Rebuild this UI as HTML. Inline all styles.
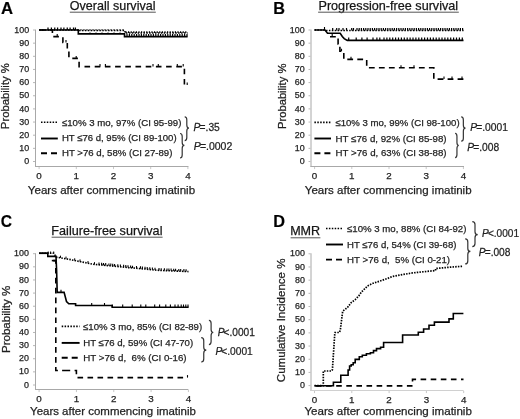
<!DOCTYPE html>
<html><head><meta charset="utf-8"><style>
html,body{margin:0;padding:0;background:#fff;}
svg{display:block;filter:grayscale(100%);}
text{stroke:#222;stroke-width:0.25px;white-space:pre;}
</style></head><body>
<svg width="520" height="419" viewBox="0 0 520 419">
<rect width="520" height="419" fill="#fff"/>
<text x="0.98" y="13.60" font-size="16.8" style="font-family:&quot;Liberation Sans&quot;,sans-serif;font-weight:bold;stroke-width:0.2px;" fill="#000" textLength="12.06" lengthAdjust="spacingAndGlyphs" >A</text>
<text x="69.81" y="10.00" font-size="12.6" style="font-family:&quot;Liberation Sans&quot;,sans-serif;" fill="#111" textLength="85.63" lengthAdjust="spacingAndGlyphs" >Overall survival</text>
<line x1="69.80" y1="12.20" x2="155.80" y2="12.20" stroke="#555" stroke-width="1" />
<line x1="35.50" y1="29.50" x2="35.50" y2="167.00" stroke="#a8a8a8" stroke-width="1" />
<line x1="35.00" y1="166.50" x2="188.50" y2="166.50" stroke="#a8a8a8" stroke-width="1" />
<line x1="33.00" y1="161.50" x2="35.00" y2="161.50" stroke="#b8b8b8" stroke-width="1" />
<text x="24.20" y="164.10" font-size="8.9" style="font-family:&quot;Liberation Sans&quot;,sans-serif" fill="#1e1e1e">0</text>
<line x1="33.00" y1="148.35" x2="35.00" y2="148.35" stroke="#b8b8b8" stroke-width="1" />
<text x="19.25" y="150.95" font-size="8.9" style="font-family:&quot;Liberation Sans&quot;,sans-serif" fill="#1e1e1e">10</text>
<line x1="33.00" y1="135.20" x2="35.00" y2="135.20" stroke="#b8b8b8" stroke-width="1" />
<text x="19.25" y="137.80" font-size="8.9" style="font-family:&quot;Liberation Sans&quot;,sans-serif" fill="#1e1e1e">20</text>
<line x1="33.00" y1="122.05" x2="35.00" y2="122.05" stroke="#b8b8b8" stroke-width="1" />
<text x="19.25" y="124.65" font-size="8.9" style="font-family:&quot;Liberation Sans&quot;,sans-serif" fill="#1e1e1e">30</text>
<line x1="33.00" y1="108.90" x2="35.00" y2="108.90" stroke="#b8b8b8" stroke-width="1" />
<text x="19.25" y="111.50" font-size="8.9" style="font-family:&quot;Liberation Sans&quot;,sans-serif" fill="#1e1e1e">40</text>
<line x1="33.00" y1="95.75" x2="35.00" y2="95.75" stroke="#b8b8b8" stroke-width="1" />
<text x="19.25" y="98.35" font-size="8.9" style="font-family:&quot;Liberation Sans&quot;,sans-serif" fill="#1e1e1e">50</text>
<line x1="33.00" y1="82.60" x2="35.00" y2="82.60" stroke="#b8b8b8" stroke-width="1" />
<text x="19.25" y="85.20" font-size="8.9" style="font-family:&quot;Liberation Sans&quot;,sans-serif" fill="#1e1e1e">60</text>
<line x1="33.00" y1="69.45" x2="35.00" y2="69.45" stroke="#b8b8b8" stroke-width="1" />
<text x="19.25" y="72.05" font-size="8.9" style="font-family:&quot;Liberation Sans&quot;,sans-serif" fill="#1e1e1e">70</text>
<line x1="33.00" y1="56.30" x2="35.00" y2="56.30" stroke="#b8b8b8" stroke-width="1" />
<text x="19.25" y="58.90" font-size="8.9" style="font-family:&quot;Liberation Sans&quot;,sans-serif" fill="#1e1e1e">80</text>
<line x1="33.00" y1="43.15" x2="35.00" y2="43.15" stroke="#b8b8b8" stroke-width="1" />
<text x="19.25" y="45.75" font-size="8.9" style="font-family:&quot;Liberation Sans&quot;,sans-serif" fill="#1e1e1e">90</text>
<line x1="33.00" y1="30.00" x2="35.00" y2="30.00" stroke="#b8b8b8" stroke-width="1" />
<text x="14.30" y="32.60" font-size="8.9" style="font-family:&quot;Liberation Sans&quot;,sans-serif" fill="#1e1e1e">100</text>
<line x1="39.10" y1="167.00" x2="39.10" y2="169.10" stroke="#c8c8c8" stroke-width="1" />
<text x="39.10" y="179.10" font-size="9.8" text-anchor="middle" style="font-family:&quot;Liberation Sans&quot;,sans-serif" fill="#1e1e1e">0</text>
<line x1="76.30" y1="167.00" x2="76.30" y2="169.10" stroke="#c8c8c8" stroke-width="1" />
<text x="76.30" y="179.10" font-size="9.8" text-anchor="middle" style="font-family:&quot;Liberation Sans&quot;,sans-serif" fill="#1e1e1e">1</text>
<line x1="113.50" y1="167.00" x2="113.50" y2="169.10" stroke="#c8c8c8" stroke-width="1" />
<text x="113.50" y="179.10" font-size="9.8" text-anchor="middle" style="font-family:&quot;Liberation Sans&quot;,sans-serif" fill="#1e1e1e">2</text>
<line x1="150.70" y1="167.00" x2="150.70" y2="169.10" stroke="#c8c8c8" stroke-width="1" />
<text x="150.70" y="179.10" font-size="9.8" text-anchor="middle" style="font-family:&quot;Liberation Sans&quot;,sans-serif" fill="#1e1e1e">3</text>
<line x1="187.90" y1="167.00" x2="187.90" y2="169.10" stroke="#c8c8c8" stroke-width="1" />
<text x="187.90" y="179.10" font-size="9.8" text-anchor="middle" style="font-family:&quot;Liberation Sans&quot;,sans-serif" fill="#1e1e1e">4</text>
<text x="27.85" y="193.80" font-size="11.5" style="font-family:&quot;Liberation Sans&quot;,sans-serif;" fill="#1e1e1e" textLength="167.23" lengthAdjust="spacingAndGlyphs" >Years after commencing imatinib</text>
<text transform="translate(9.40,129.13) rotate(-90)" x="0" y="0" font-size="11.5" style="font-family:&quot;Liberation Sans&quot;,sans-serif;" fill="#1e1e1e" textLength="66.03" lengthAdjust="spacingAndGlyphs">Probability %</text>
<line x1="41.00" y1="122.30" x2="57.80" y2="122.30" stroke="#000" stroke-width="1.6" stroke-dasharray="1.5 1.4" />
<line x1="41.00" y1="138.50" x2="57.80" y2="138.50" stroke="#000" stroke-width="1.9" />
<line x1="41.00" y1="153.30" x2="57.80" y2="153.30" stroke="#000" stroke-width="1.9" stroke-dasharray="6 4" />
<text x="61.90" y="125.60" font-size="9.6" style="font-family:&quot;Liberation Sans&quot;,sans-serif;" fill="#1e1e1e" textLength="119.49" lengthAdjust="spacingAndGlyphs" >≤10% 3 mo, 97% (CI 95-99)</text>
<text x="61.92" y="141.40" font-size="9.6" style="font-family:&quot;Liberation Sans&quot;,sans-serif;" fill="#1e1e1e" textLength="114.68" lengthAdjust="spacingAndGlyphs" >HT ≤76 d, 95% (CI 89-100)</text>
<text x="62.01" y="156.40" font-size="9.6" style="font-family:&quot;Liberation Sans&quot;,sans-serif;" fill="#1e1e1e" textLength="110.39" lengthAdjust="spacingAndGlyphs" >HT &gt;76 d, 58% (CI 27-89)</text>
<path d="M184.70,116.80 Q186.80,116.80 186.80,119.80 L186.80,125.10 Q186.80,128.10 188.90,128.10 Q186.80,128.10 186.80,131.10 L186.80,137.60 Q186.80,140.60 184.70,140.60" fill="none" stroke="#333" stroke-width="1.2"/>
<path d="M180.00,133.50 Q182.20,133.50 182.20,136.50 L182.20,142.40 Q182.20,145.40 184.40,145.40 Q182.20,145.40 182.20,148.40 L182.20,155.00 Q182.20,158.00 180.00,158.00" fill="none" stroke="#333" stroke-width="1.2"/>
<g transform="translate(193.90,131.10) scale(0.9501,1)"><text x="-0.33" y="0" font-size="10.8" style="font-family:&quot;Liberation Sans&quot;,sans-serif;font-style:italic" fill="#1e1e1e">P</text><text x="5.97" y="0" font-size="10.8" style="font-family:&quot;Liberation Sans&quot;,sans-serif;" fill="#1e1e1e">=.35</text></g>
<g transform="translate(194.10,149.70) scale(0.9726,1)"><text x="-0.33" y="0" font-size="10.8" style="font-family:&quot;Liberation Sans&quot;,sans-serif;font-style:italic" fill="#1e1e1e">P</text><text x="5.97" y="0" font-size="10.8" style="font-family:&quot;Liberation Sans&quot;,sans-serif;" fill="#1e1e1e">=.0002</text></g>
<path d="M39.10,30.00 L78.00,30.00 L78.00,30.60 L125.00,30.60 L125.00,33.00 L187.60,33.00" fill="none" stroke="#000" stroke-width="1.5" stroke-dasharray="1.5 1.4" stroke-dashoffset="0" stroke-linejoin="miter"/>
<path d="M39.10,30.00 L78.30,30.00 L78.30,33.90 L124.50,33.90 L124.50,36.60 L187.60,36.60" fill="none" stroke="#000" stroke-width="1.6" stroke-linejoin="miter"/>
<path d="M39.10,30.00 L52.40,30.00 L52.40,36.60 L62.90,36.60 L62.90,42.50 L67.30,42.50 L67.30,49.50 L68.90,49.50 L68.90,58.40 L79.10,58.40 L79.10,66.60 L184.40,66.60 L184.40,85.00 L187.60,85.00" fill="none" stroke="#000" stroke-width="1.6" stroke-dasharray="5.6 4.6" stroke-dashoffset="9.80" stroke-linejoin="miter"/>
<path d="M48.00,30.00 v-2.5 M51.40,30.00 v-2.5 M54.75,30.00 v-2.5 M57.60,30.00 v-2.5 M61.00,30.00 v-2.5 M63.90,30.00 v-2.5 M67.25,30.00 v-2.5 M70.10,30.00 v-2.5 M73.50,30.00 v-2.5 M75.40,30.00 v-2.5" stroke="#000" stroke-width="1.25" fill="none"/>
<path d="M81.00,30.60 v-1.4 M84.00,30.60 v-1.4 M87.00,30.60 v-1.4 M90.00,30.60 v-1.4 M93.00,30.60 v-1.4 M96.00,30.60 v-1.4 M99.00,30.60 v-1.4 M102.00,30.60 v-1.4 M105.00,30.60 v-1.4 M108.00,30.60 v-1.4 M111.00,30.60 v-1.4 M114.00,30.60 v-1.4 M117.00,30.60 v-1.4 M120.00,30.60 v-1.4 M123.00,30.60 v-1.4" stroke="#000" stroke-width="1.2" fill="none"/>
<path d="M126.00,33.00 v-1.8 M128.60,33.00 v-1.8 M131.20,33.00 v-1.8 M133.80,33.00 v-1.8 M136.40,33.00 v-1.8 M139.00,33.00 v-1.8 M141.60,33.00 v-1.8 M144.20,33.00 v-1.8 M146.80,33.00 v-1.8 M149.40,33.00 v-1.8 M152.00,33.00 v-1.8 M154.60,33.00 v-1.8 M157.20,33.00 v-1.8 M159.80,33.00 v-1.8 M162.40,33.00 v-1.8 M165.00,33.00 v-1.8 M167.60,33.00 v-1.8 M170.20,33.00 v-1.8 M172.80,33.00 v-1.8 M175.40,33.00 v-1.8 M178.00,33.00 v-1.8 M180.60,33.00 v-1.8 M183.20,33.00 v-1.8 M185.80,33.00 v-1.8" stroke="#000" stroke-width="1.2" fill="none"/>
<path d="M90.00,33.90 v-1.5 M96.00,33.90 v-1.5 M102.00,33.90 v-1.5 M108.00,33.90 v-1.5 M114.00,33.90 v-1.5 M120.00,33.90 v-1.5" stroke="#000" stroke-width="1.1" fill="none"/>
<path d="M127.00,36.60 v-2.6 M129.40,36.60 v-2.6 M131.80,36.60 v-2.6 M134.20,36.60 v-2.6 M136.60,36.60 v-2.6 M139.00,36.60 v-2.6 M141.40,36.60 v-2.6 M143.80,36.60 v-2.6 M146.20,36.60 v-2.6 M148.60,36.60 v-2.6 M151.00,36.60 v-2.6 M153.40,36.60 v-2.6 M155.80,36.60 v-2.6 M158.20,36.60 v-2.6 M160.60,36.60 v-2.6 M163.00,36.60 v-2.6 M165.40,36.60 v-2.6 M167.80,36.60 v-2.6 M170.20,36.60 v-2.6 M172.60,36.60 v-2.6 M175.00,36.60 v-2.6 M177.40,36.60 v-2.6 M179.80,36.60 v-2.6 M182.20,36.60 v-2.6 M184.60,36.60 v-2.6 M187.00,36.60 v-2.6" stroke="#000" stroke-width="1.2" fill="none"/>
<path d="M57.20,36.60 v-2.5 M66.00,42.50 v-2.5 M76.20,58.40 v-2.5 M100.00,66.60 v-2.5 M105.40,66.60 v-2.5 M153.00,66.60 v-2.5 M158.30,66.60 v-2.5 M177.30,66.60 v-2.5 M183.20,66.60 v-2.5 M187.20,85.00 v-2.5" stroke="#000" stroke-width="1.1" fill="none"/>
<text x="273.31" y="13.60" font-size="16.8" style="font-family:&quot;Liberation Sans&quot;,sans-serif;font-weight:bold;stroke-width:0.2px;" fill="#000" textLength="11.72" lengthAdjust="spacingAndGlyphs" >B</text>
<text x="318.46" y="9.80" font-size="12.6" style="font-family:&quot;Liberation Sans&quot;,sans-serif;" fill="#111" textLength="139.68" lengthAdjust="spacingAndGlyphs" >Progression-free survival</text>
<line x1="318.10" y1="12.20" x2="458.80" y2="12.20" stroke="#555" stroke-width="1" />
<line x1="311.00" y1="29.50" x2="311.00" y2="167.00" stroke="#a8a8a8" stroke-width="1" />
<line x1="310.50" y1="166.50" x2="464.00" y2="166.50" stroke="#a8a8a8" stroke-width="1" />
<line x1="308.50" y1="161.50" x2="310.50" y2="161.50" stroke="#b8b8b8" stroke-width="1" />
<text x="299.70" y="164.10" font-size="8.9" style="font-family:&quot;Liberation Sans&quot;,sans-serif" fill="#1e1e1e">0</text>
<line x1="308.50" y1="148.35" x2="310.50" y2="148.35" stroke="#b8b8b8" stroke-width="1" />
<text x="294.75" y="150.95" font-size="8.9" style="font-family:&quot;Liberation Sans&quot;,sans-serif" fill="#1e1e1e">10</text>
<line x1="308.50" y1="135.20" x2="310.50" y2="135.20" stroke="#b8b8b8" stroke-width="1" />
<text x="294.75" y="137.80" font-size="8.9" style="font-family:&quot;Liberation Sans&quot;,sans-serif" fill="#1e1e1e">20</text>
<line x1="308.50" y1="122.05" x2="310.50" y2="122.05" stroke="#b8b8b8" stroke-width="1" />
<text x="294.75" y="124.65" font-size="8.9" style="font-family:&quot;Liberation Sans&quot;,sans-serif" fill="#1e1e1e">30</text>
<line x1="308.50" y1="108.90" x2="310.50" y2="108.90" stroke="#b8b8b8" stroke-width="1" />
<text x="294.75" y="111.50" font-size="8.9" style="font-family:&quot;Liberation Sans&quot;,sans-serif" fill="#1e1e1e">40</text>
<line x1="308.50" y1="95.75" x2="310.50" y2="95.75" stroke="#b8b8b8" stroke-width="1" />
<text x="294.75" y="98.35" font-size="8.9" style="font-family:&quot;Liberation Sans&quot;,sans-serif" fill="#1e1e1e">50</text>
<line x1="308.50" y1="82.60" x2="310.50" y2="82.60" stroke="#b8b8b8" stroke-width="1" />
<text x="294.75" y="85.20" font-size="8.9" style="font-family:&quot;Liberation Sans&quot;,sans-serif" fill="#1e1e1e">60</text>
<line x1="308.50" y1="69.45" x2="310.50" y2="69.45" stroke="#b8b8b8" stroke-width="1" />
<text x="294.75" y="72.05" font-size="8.9" style="font-family:&quot;Liberation Sans&quot;,sans-serif" fill="#1e1e1e">70</text>
<line x1="308.50" y1="56.30" x2="310.50" y2="56.30" stroke="#b8b8b8" stroke-width="1" />
<text x="294.75" y="58.90" font-size="8.9" style="font-family:&quot;Liberation Sans&quot;,sans-serif" fill="#1e1e1e">80</text>
<line x1="308.50" y1="43.15" x2="310.50" y2="43.15" stroke="#b8b8b8" stroke-width="1" />
<text x="294.75" y="45.75" font-size="8.9" style="font-family:&quot;Liberation Sans&quot;,sans-serif" fill="#1e1e1e">90</text>
<line x1="308.50" y1="30.00" x2="310.50" y2="30.00" stroke="#b8b8b8" stroke-width="1" />
<text x="289.80" y="32.60" font-size="8.9" style="font-family:&quot;Liberation Sans&quot;,sans-serif" fill="#1e1e1e">100</text>
<line x1="314.60" y1="167.00" x2="314.60" y2="169.10" stroke="#c8c8c8" stroke-width="1" />
<text x="314.60" y="179.10" font-size="9.8" text-anchor="middle" style="font-family:&quot;Liberation Sans&quot;,sans-serif" fill="#1e1e1e">0</text>
<line x1="351.80" y1="167.00" x2="351.80" y2="169.10" stroke="#c8c8c8" stroke-width="1" />
<text x="351.80" y="179.10" font-size="9.8" text-anchor="middle" style="font-family:&quot;Liberation Sans&quot;,sans-serif" fill="#1e1e1e">1</text>
<line x1="389.00" y1="167.00" x2="389.00" y2="169.10" stroke="#c8c8c8" stroke-width="1" />
<text x="389.00" y="179.10" font-size="9.8" text-anchor="middle" style="font-family:&quot;Liberation Sans&quot;,sans-serif" fill="#1e1e1e">2</text>
<line x1="426.20" y1="167.00" x2="426.20" y2="169.10" stroke="#c8c8c8" stroke-width="1" />
<text x="426.20" y="179.10" font-size="9.8" text-anchor="middle" style="font-family:&quot;Liberation Sans&quot;,sans-serif" fill="#1e1e1e">3</text>
<line x1="463.40" y1="167.00" x2="463.40" y2="169.10" stroke="#c8c8c8" stroke-width="1" />
<text x="463.40" y="179.10" font-size="9.8" text-anchor="middle" style="font-family:&quot;Liberation Sans&quot;,sans-serif" fill="#1e1e1e">4</text>
<text x="304.75" y="193.80" font-size="11.5" style="font-family:&quot;Liberation Sans&quot;,sans-serif;" fill="#1e1e1e" textLength="166.83" lengthAdjust="spacingAndGlyphs" >Years after commencing imatinib</text>
<text transform="translate(285.90,129.02) rotate(-90)" x="0" y="0" font-size="11.5" style="font-family:&quot;Liberation Sans&quot;,sans-serif;" fill="#1e1e1e" textLength="65.42" lengthAdjust="spacingAndGlyphs">Probability %</text>
<line x1="314.40" y1="122.40" x2="331.00" y2="122.40" stroke="#000" stroke-width="1.6" stroke-dasharray="1.5 1.4" />
<line x1="314.40" y1="138.50" x2="331.00" y2="138.50" stroke="#000" stroke-width="1.9" />
<line x1="314.40" y1="153.30" x2="331.00" y2="153.30" stroke="#000" stroke-width="1.9" stroke-dasharray="6 4" />
<text x="335.40" y="125.50" font-size="9.6" style="font-family:&quot;Liberation Sans&quot;,sans-serif;" fill="#1e1e1e" textLength="124.19" lengthAdjust="spacingAndGlyphs" >≤10% 3 mo, 99% (CI 98-100)</text>
<text x="335.60" y="141.50" font-size="9.6" style="font-family:&quot;Liberation Sans&quot;,sans-serif;" fill="#1e1e1e" textLength="111.00" lengthAdjust="spacingAndGlyphs" >HT ≤76 d, 92% (CI 85-98)</text>
<text x="335.61" y="156.40" font-size="9.6" style="font-family:&quot;Liberation Sans&quot;,sans-serif;" fill="#1e1e1e" textLength="110.99" lengthAdjust="spacingAndGlyphs" >HT &gt;76 d, 63% (CI 38-88)</text>
<path d="M461.20,116.90 Q463.35,116.90 463.35,119.90 L463.35,125.20 Q463.35,128.20 465.50,128.20 Q463.35,128.20 463.35,131.20 L463.35,138.20 Q463.35,141.20 461.20,141.20" fill="none" stroke="#333" stroke-width="1.2"/>
<path d="M455.10,133.40 Q456.95,133.40 456.95,136.40 L456.95,142.50 Q456.95,145.50 458.80,145.50 Q456.95,145.50 456.95,148.50 L456.95,154.60 Q456.95,157.60 455.10,157.60" fill="none" stroke="#333" stroke-width="1.2"/>
<g transform="translate(470.60,131.10) scale(0.9516,1)"><text x="-0.33" y="0" font-size="10.8" style="font-family:&quot;Liberation Sans&quot;,sans-serif;font-style:italic" fill="#1e1e1e">P</text><text x="5.97" y="0" font-size="10.8" style="font-family:&quot;Liberation Sans&quot;,sans-serif;" fill="#1e1e1e">=.0001</text></g>
<g transform="translate(467.60,150.70) scale(0.9504,1)"><text x="-0.33" y="0" font-size="10.8" style="font-family:&quot;Liberation Sans&quot;,sans-serif;font-style:italic" fill="#1e1e1e">P</text><text x="5.97" y="0" font-size="10.8" style="font-family:&quot;Liberation Sans&quot;,sans-serif;" fill="#1e1e1e">=.008</text></g>
<path d="M314.50,30.00 L324.80,30.00 L326.50,30.60 L463.50,30.60" fill="none" stroke="#000" stroke-width="1.5" stroke-dasharray="1.5 1.4" stroke-dashoffset="0" stroke-linejoin="miter"/>
<path d="M314.50,30.00 L325.00,30.00 L327.50,33.30 L340.20,33.30 L342.30,36.50 L344.20,38.60 L347.30,40.40 L463.50,40.40" fill="none" stroke="#000" stroke-width="1.6" stroke-linejoin="miter"/>
<path d="M328.40,36.70 L338.10,36.70 L338.10,44.00 L339.90,44.00 L339.90,51.30 L343.80,51.30 L343.80,59.40 L366.70,59.40 L366.70,67.80 L433.80,67.80 L433.80,79.10 L463.50,79.10" fill="none" stroke="#000" stroke-width="1.6" stroke-dasharray="5.8 4.2" stroke-dashoffset="8.40" stroke-linejoin="miter"/>
<path d="M332.70,30.60 v-2.6 M336.70,30.60 v-2.6 M339.00,30.60 v-2.6 M343.00,30.60 v-2.6 M346.50,30.60 v-2.6 M351.70,30.60 v-2.6 M353.50,30.60 v-2.6 M357.00,30.60 v-2.6 M359.20,30.60 v-2.6 M361.40,30.60 v-2.6 M363.60,30.60 v-2.6 M365.80,30.60 v-2.6 M368.00,30.60 v-2.6 M370.20,30.60 v-2.6 M372.40,30.60 v-2.6 M374.60,30.60 v-2.6 M376.80,30.60 v-2.6 M379.00,30.60 v-2.6 M381.20,30.60 v-2.6 M383.40,30.60 v-2.6 M385.60,30.60 v-2.6 M387.80,30.60 v-2.6 M390.00,30.60 v-2.6 M392.20,30.60 v-2.6 M394.40,30.60 v-2.6 M396.60,30.60 v-2.6 M398.80,30.60 v-2.6 M401.00,30.60 v-2.6 M403.20,30.60 v-2.6 M405.40,30.60 v-2.6 M407.60,30.60 v-2.6 M409.80,30.60 v-2.6 M412.00,30.60 v-2.6 M414.20,30.60 v-2.6 M416.40,30.60 v-2.6 M418.60,30.60 v-2.6 M420.80,30.60 v-2.6 M423.00,30.60 v-2.6 M425.20,30.60 v-2.6 M427.40,30.60 v-2.6 M429.60,30.60 v-2.6 M431.80,30.60 v-2.6 M434.00,30.60 v-2.6 M436.20,30.60 v-2.6 M438.40,30.60 v-2.6 M440.60,30.60 v-2.6 M442.80,30.60 v-2.6 M445.00,30.60 v-2.6 M447.20,30.60 v-2.6 M449.40,30.60 v-2.6 M451.60,30.60 v-2.6 M453.80,30.60 v-2.6 M456.00,30.60 v-2.6 M458.20,30.60 v-2.6 M460.40,30.60 v-2.6 M462.60,30.60 v-2.6" stroke="#000" stroke-width="1.2" fill="none"/>
<path d="M324.50,30.00 v-3" stroke="#000" stroke-width="1.1" fill="none"/>
<path d="M348.70,40.40 v-2.8 M356.20,40.40 v-2.8 M361.90,40.40 v-2.8 M367.10,40.40 v-2.8 M373.00,40.40 v-2.8 M376.90,40.40 v-2.8 M379.80,40.40 v-2.8 M384.00,40.40 v-2.8 M386.90,40.40 v-2.8 M389.80,40.40 v-2.8 M392.70,40.40 v-2.8 M395.60,40.40 v-2.8 M398.50,40.40 v-2.8 M401.40,40.40 v-2.8 M404.30,40.40 v-2.8 M407.20,40.40 v-2.8 M410.10,40.40 v-2.8 M413.00,40.40 v-2.8 M415.90,40.40 v-2.8 M418.80,40.40 v-2.8 M421.70,40.40 v-2.8 M424.60,40.40 v-2.8 M427.50,40.40 v-2.8 M430.40,40.40 v-2.8 M433.30,40.40 v-2.8 M436.20,40.40 v-2.8 M439.10,40.40 v-2.8 M442.00,40.40 v-2.8 M444.90,40.40 v-2.8 M447.80,40.40 v-2.8 M450.70,40.40 v-2.8 M453.60,40.40 v-2.8 M456.50,40.40 v-2.8 M459.40,40.40 v-2.8 M462.30,40.40 v-2.8" stroke="#000" stroke-width="1.2" fill="none"/>
<path d="M332.20,36.70 v-2.6 M341.50,51.30 v-2.6 M351.00,59.40 v-2.6 M401.00,67.80 v-2.6 M414.00,67.80 v-2.6 M444.00,79.10 v-2.6 M452.00,79.10 v-2.6 M462.00,79.10 v-2.6" stroke="#000" stroke-width="1.1" fill="none"/>
<text x="0.86" y="227.30" font-size="16.8" style="font-family:&quot;Liberation Sans&quot;,sans-serif;font-weight:bold;stroke-width:0.2px;" fill="#000" textLength="11.27" lengthAdjust="spacingAndGlyphs" >C</text>
<text x="51.36" y="234.50" font-size="12.6" style="font-family:&quot;Liberation Sans&quot;,sans-serif;" fill="#111" textLength="111.08" lengthAdjust="spacingAndGlyphs" >Failure-free survival</text>
<line x1="51.60" y1="237.20" x2="162.60" y2="237.20" stroke="#555" stroke-width="1" />
<line x1="35.50" y1="253.20" x2="35.50" y2="390.00" stroke="#a8a8a8" stroke-width="1" />
<line x1="35.00" y1="389.50" x2="188.40" y2="389.50" stroke="#a8a8a8" stroke-width="1" />
<line x1="33.00" y1="385.00" x2="35.00" y2="385.00" stroke="#b8b8b8" stroke-width="1" />
<text x="24.00" y="387.60" font-size="8.9" style="font-family:&quot;Liberation Sans&quot;,sans-serif" fill="#1e1e1e">0</text>
<line x1="33.00" y1="371.87" x2="35.00" y2="371.87" stroke="#b8b8b8" stroke-width="1" />
<text x="19.05" y="374.47" font-size="8.9" style="font-family:&quot;Liberation Sans&quot;,sans-serif" fill="#1e1e1e">10</text>
<line x1="33.00" y1="358.74" x2="35.00" y2="358.74" stroke="#b8b8b8" stroke-width="1" />
<text x="19.05" y="361.34" font-size="8.9" style="font-family:&quot;Liberation Sans&quot;,sans-serif" fill="#1e1e1e">20</text>
<line x1="33.00" y1="345.61" x2="35.00" y2="345.61" stroke="#b8b8b8" stroke-width="1" />
<text x="19.05" y="348.21" font-size="8.9" style="font-family:&quot;Liberation Sans&quot;,sans-serif" fill="#1e1e1e">30</text>
<line x1="33.00" y1="332.48" x2="35.00" y2="332.48" stroke="#b8b8b8" stroke-width="1" />
<text x="19.05" y="335.08" font-size="8.9" style="font-family:&quot;Liberation Sans&quot;,sans-serif" fill="#1e1e1e">40</text>
<line x1="33.00" y1="319.35" x2="35.00" y2="319.35" stroke="#b8b8b8" stroke-width="1" />
<text x="19.05" y="321.95" font-size="8.9" style="font-family:&quot;Liberation Sans&quot;,sans-serif" fill="#1e1e1e">50</text>
<line x1="33.00" y1="306.22" x2="35.00" y2="306.22" stroke="#b8b8b8" stroke-width="1" />
<text x="19.05" y="308.82" font-size="8.9" style="font-family:&quot;Liberation Sans&quot;,sans-serif" fill="#1e1e1e">60</text>
<line x1="33.00" y1="293.09" x2="35.00" y2="293.09" stroke="#b8b8b8" stroke-width="1" />
<text x="19.05" y="295.69" font-size="8.9" style="font-family:&quot;Liberation Sans&quot;,sans-serif" fill="#1e1e1e">70</text>
<line x1="33.00" y1="279.96" x2="35.00" y2="279.96" stroke="#b8b8b8" stroke-width="1" />
<text x="19.05" y="282.56" font-size="8.9" style="font-family:&quot;Liberation Sans&quot;,sans-serif" fill="#1e1e1e">80</text>
<line x1="33.00" y1="266.83" x2="35.00" y2="266.83" stroke="#b8b8b8" stroke-width="1" />
<text x="19.05" y="269.43" font-size="8.9" style="font-family:&quot;Liberation Sans&quot;,sans-serif" fill="#1e1e1e">90</text>
<line x1="33.00" y1="253.70" x2="35.00" y2="253.70" stroke="#b8b8b8" stroke-width="1" />
<text x="14.10" y="256.30" font-size="8.9" style="font-family:&quot;Liberation Sans&quot;,sans-serif" fill="#1e1e1e">100</text>
<line x1="39.10" y1="390.00" x2="39.10" y2="392.10" stroke="#c8c8c8" stroke-width="1" />
<text x="39.10" y="402.00" font-size="9.8" text-anchor="middle" style="font-family:&quot;Liberation Sans&quot;,sans-serif" fill="#1e1e1e">0</text>
<line x1="76.43" y1="390.00" x2="76.43" y2="392.10" stroke="#c8c8c8" stroke-width="1" />
<text x="76.43" y="402.00" font-size="9.8" text-anchor="middle" style="font-family:&quot;Liberation Sans&quot;,sans-serif" fill="#1e1e1e">1</text>
<line x1="113.76" y1="390.00" x2="113.76" y2="392.10" stroke="#c8c8c8" stroke-width="1" />
<text x="113.76" y="402.00" font-size="9.8" text-anchor="middle" style="font-family:&quot;Liberation Sans&quot;,sans-serif" fill="#1e1e1e">2</text>
<line x1="151.09" y1="390.00" x2="151.09" y2="392.10" stroke="#c8c8c8" stroke-width="1" />
<text x="151.09" y="402.00" font-size="9.8" text-anchor="middle" style="font-family:&quot;Liberation Sans&quot;,sans-serif" fill="#1e1e1e">3</text>
<line x1="188.42" y1="390.00" x2="188.42" y2="392.10" stroke="#c8c8c8" stroke-width="1" />
<text x="188.42" y="402.00" font-size="9.8" text-anchor="middle" style="font-family:&quot;Liberation Sans&quot;,sans-serif" fill="#1e1e1e">4</text>
<text x="30.05" y="414.60" font-size="11.5" style="font-family:&quot;Liberation Sans&quot;,sans-serif;" fill="#1e1e1e" textLength="165.83" lengthAdjust="spacingAndGlyphs" >Years after commencing imatinib</text>
<text transform="translate(9.60,353.05) rotate(-90)" x="0" y="0" font-size="11.5" style="font-family:&quot;Liberation Sans&quot;,sans-serif;" fill="#1e1e1e" textLength="67.36" lengthAdjust="spacingAndGlyphs">Probability %</text>
<line x1="61.70" y1="326.40" x2="79.60" y2="326.40" stroke="#000" stroke-width="1.6" stroke-dasharray="1.5 1.4" />
<line x1="61.70" y1="342.90" x2="79.60" y2="342.90" stroke="#000" stroke-width="1.9" />
<line x1="61.70" y1="357.80" x2="79.60" y2="357.80" stroke="#000" stroke-width="1.9" stroke-dasharray="6 4" />
<text x="83.10" y="329.80" font-size="9.6" style="font-family:&quot;Liberation Sans&quot;,sans-serif;" fill="#1e1e1e" textLength="119.09" lengthAdjust="spacingAndGlyphs" >≤10% 3 mo, 85% (CI 82-89)</text>
<text x="83.31" y="345.60" font-size="9.6" style="font-family:&quot;Liberation Sans&quot;,sans-serif;" fill="#1e1e1e" textLength="109.88" lengthAdjust="spacingAndGlyphs" >HT ≤76 d, 59% (CI 47-70)</text>
<text x="83.30" y="360.50" font-size="9.6" style="font-family:&quot;Liberation Sans&quot;,sans-serif;" fill="#1e1e1e" textLength="103.30" lengthAdjust="spacingAndGlyphs" >HT &gt;76 d,  6% (CI 0-16)</text>
<path d="M208.90,320.40 Q211.10,320.40 211.10,323.40 L211.10,329.50 Q211.10,332.50 213.30,332.50 Q211.10,332.50 211.10,335.50 L211.10,341.60 Q211.10,344.60 208.90,344.60" fill="none" stroke="#333" stroke-width="1.2"/>
<path d="M201.20,337.70 Q203.75,337.70 203.75,340.70 L203.75,347.20 Q203.75,350.20 206.30,350.20 Q203.75,350.20 203.75,353.20 L203.75,359.00 Q203.75,362.00 201.20,362.00" fill="none" stroke="#333" stroke-width="1.2"/>
<g transform="translate(218.00,335.60) scale(0.9387,1)"><text x="-0.33" y="0" font-size="10.8" style="font-family:&quot;Liberation Sans&quot;,sans-serif;font-style:italic" fill="#1e1e1e">P</text><text x="5.97" y="0" font-size="10.8" style="font-family:&quot;Liberation Sans&quot;,sans-serif;" fill="#1e1e1e">&lt;.0001</text></g>
<g transform="translate(215.70,354.70) scale(0.9439,1)"><text x="-0.33" y="0" font-size="10.8" style="font-family:&quot;Liberation Sans&quot;,sans-serif;font-style:italic" fill="#1e1e1e">P</text><text x="5.97" y="0" font-size="10.8" style="font-family:&quot;Liberation Sans&quot;,sans-serif;" fill="#1e1e1e">&lt;.0001</text></g>
<path d="M39.10,253.30 L53.70,253.30 L56.50,257.20 L65.00,258.60 L71.00,259.70 L77.00,261.00 L82.00,262.00 L86.00,262.80 L93.00,264.20 L100.00,264.90 L110.00,265.80 L120.00,266.70 L128.00,267.60 L145.00,269.00 L157.00,270.30 L170.00,270.80 L188.50,271.60" fill="none" stroke="#000" stroke-width="1.6" stroke-dasharray="1.5 1.2" stroke-dashoffset="0" stroke-linejoin="miter"/>
<path d="M60.50,257.86 v-2.2 M66.00,258.78 v-2.2 M74.70,260.50 v-2.2 M80.00,261.60 v-2.2 M88.00,263.20 v-2.2 M94.50,264.35 v-2.2" stroke="#000" stroke-width="1.0" fill="none"/>
<path d="M99.00,264.80 v-2.3 M101.60,265.04 v-2.3 M103.50,265.21 v-2.3 M105.70,265.41 v-2.3 M108.90,265.70 v-2.3 M110.80,265.87 v-2.3 M112.70,266.04 v-2.3 M114.60,266.21 v-2.3 M117.80,266.50 v-2.3 M120.40,266.75 v-2.3 M123.60,267.11 v-2.3 M125.80,267.35 v-2.3 M128.00,267.60 v-2.3 M130.60,267.81 v-2.3 M132.50,267.97 v-2.3 M136.50,268.30 v-2.3 M140.50,268.63 v-2.3 M142.40,268.79 v-2.3 M145.00,269.00 v-2.3 M147.20,269.24 v-2.3 M149.80,269.52 v-2.3 M152.40,269.80 v-2.3 M155.00,270.08 v-2.3 M159.00,270.38 v-2.3 M161.20,270.46 v-2.3 M164.40,270.58 v-2.3 M167.00,270.68 v-2.3 M168.90,270.76 v-2.3 M171.10,270.85 v-2.3 M173.70,270.96 v-2.3 M175.60,271.04 v-2.3 M178.80,271.18 v-2.3 M180.70,271.26 v-2.3 M183.90,271.40 v-2.3 M186.10,271.50 v-2.3" stroke="#000" stroke-width="1.1" fill="none"/>
<path d="M48.20,253.30 v-1.8 M50.60,253.30 v-1.8 M53.70,253.30 v-1.8" stroke="#000" stroke-width="1.0" fill="none"/>
<path d="M39.10,253.30 L47.80,253.30 L47.80,256.40 L56.00,256.40 L56.60,270.00 L57.20,292.40 L64.10,292.40 L66.50,301.50 L68.80,303.80 L75.60,303.80 L75.60,305.50 L112.20,305.50 L112.20,307.20 L188.60,307.20" fill="none" stroke="#000" stroke-width="1.6" stroke-linejoin="miter"/>
<path d="M39.10,253.30 L48.00,253.30" fill="none" stroke="#000" stroke-width="1.6" stroke-linejoin="miter"/>
<path d="M51.80,260.60 L55.80,260.60" fill="none" stroke="#000" stroke-width="1.6" stroke-linejoin="miter"/>
<path d="M50.40,260.60 L55.80,260.60 L55.80,370.50 L66.00,370.50" fill="none" stroke="#000" stroke-width="1.6" stroke-dasharray="5.7 4.2" stroke-dashoffset="7.10" stroke-linejoin="miter"/>
<path d="M66.00,370.50 L76.40,370.50 L76.40,377.60 L187.50,377.60" fill="none" stroke="#000" stroke-width="1.6" stroke-dasharray="5.6 4.4" stroke-dashoffset="1.40" stroke-linejoin="miter"/>
<path d="M61.00,292.40 v-2.6 M91.70,305.50 v-2.6 M104.50,305.50 v-2.6 M112.20,307.20 v-2.6 M122.70,307.20 v-2.6 M132.20,307.20 v-2.6 M140.80,307.20 v-2.6 M145.80,307.20 v-2.6 M154.70,307.20 v-2.6 M159.60,307.20 v-2.6 M165.80,307.20 v-2.6 M170.40,307.20 v-2.6 M175.00,307.20 v-2.6 M178.10,307.20 v-2.6 M181.20,307.20 v-2.6 M183.50,307.20 v-2.6 M185.80,307.20 v-2.6 M188.00,307.20 v-2.6" stroke="#000" stroke-width="1.1" fill="none"/>
<path d="M187.50,377.60 v-2.5" stroke="#000" stroke-width="1.1" fill="none"/>
<text x="273.31" y="227.40" font-size="16.8" style="font-family:&quot;Liberation Sans&quot;,sans-serif;font-weight:bold;stroke-width:0.2px;" fill="#000" textLength="11.78" lengthAdjust="spacingAndGlyphs" >D</text>
<text x="290.17" y="235.40" font-size="12.6" style="font-family:&quot;Liberation Sans&quot;,sans-serif;" fill="#111" textLength="30.01" lengthAdjust="spacingAndGlyphs" >MMR</text>
<line x1="290.60" y1="237.80" x2="320.40" y2="237.80" stroke="#555" stroke-width="1" />
<line x1="311.00" y1="253.30" x2="311.00" y2="391.00" stroke="#a8a8a8" stroke-width="1" />
<line x1="310.50" y1="390.50" x2="463.70" y2="390.50" stroke="#d0d0d0" stroke-width="1" />
<line x1="308.50" y1="385.60" x2="310.50" y2="385.60" stroke="#b8b8b8" stroke-width="1" />
<text x="300.00" y="388.20" font-size="8.9" style="font-family:&quot;Liberation Sans&quot;,sans-serif" fill="#1e1e1e">0</text>
<line x1="308.50" y1="372.42" x2="310.50" y2="372.42" stroke="#b8b8b8" stroke-width="1" />
<text x="295.05" y="375.02" font-size="8.9" style="font-family:&quot;Liberation Sans&quot;,sans-serif" fill="#1e1e1e">10</text>
<line x1="308.50" y1="359.24" x2="310.50" y2="359.24" stroke="#b8b8b8" stroke-width="1" />
<text x="295.05" y="361.84" font-size="8.9" style="font-family:&quot;Liberation Sans&quot;,sans-serif" fill="#1e1e1e">20</text>
<line x1="308.50" y1="346.06" x2="310.50" y2="346.06" stroke="#b8b8b8" stroke-width="1" />
<text x="295.05" y="348.66" font-size="8.9" style="font-family:&quot;Liberation Sans&quot;,sans-serif" fill="#1e1e1e">30</text>
<line x1="308.50" y1="332.88" x2="310.50" y2="332.88" stroke="#b8b8b8" stroke-width="1" />
<text x="295.05" y="335.48" font-size="8.9" style="font-family:&quot;Liberation Sans&quot;,sans-serif" fill="#1e1e1e">40</text>
<line x1="308.50" y1="319.70" x2="310.50" y2="319.70" stroke="#b8b8b8" stroke-width="1" />
<text x="295.05" y="322.30" font-size="8.9" style="font-family:&quot;Liberation Sans&quot;,sans-serif" fill="#1e1e1e">50</text>
<line x1="308.50" y1="306.52" x2="310.50" y2="306.52" stroke="#b8b8b8" stroke-width="1" />
<text x="295.05" y="309.12" font-size="8.9" style="font-family:&quot;Liberation Sans&quot;,sans-serif" fill="#1e1e1e">60</text>
<line x1="308.50" y1="293.34" x2="310.50" y2="293.34" stroke="#b8b8b8" stroke-width="1" />
<text x="295.05" y="295.94" font-size="8.9" style="font-family:&quot;Liberation Sans&quot;,sans-serif" fill="#1e1e1e">70</text>
<line x1="308.50" y1="280.16" x2="310.50" y2="280.16" stroke="#b8b8b8" stroke-width="1" />
<text x="295.05" y="282.76" font-size="8.9" style="font-family:&quot;Liberation Sans&quot;,sans-serif" fill="#1e1e1e">80</text>
<line x1="308.50" y1="266.98" x2="310.50" y2="266.98" stroke="#b8b8b8" stroke-width="1" />
<text x="295.05" y="269.58" font-size="8.9" style="font-family:&quot;Liberation Sans&quot;,sans-serif" fill="#1e1e1e">90</text>
<line x1="308.50" y1="253.80" x2="310.50" y2="253.80" stroke="#b8b8b8" stroke-width="1" />
<text x="290.10" y="256.40" font-size="8.9" style="font-family:&quot;Liberation Sans&quot;,sans-serif" fill="#1e1e1e">100</text>
<line x1="314.50" y1="391.00" x2="314.50" y2="393.10" stroke="#c8c8c8" stroke-width="1" />
<text x="314.50" y="402.60" font-size="9.8" text-anchor="middle" style="font-family:&quot;Liberation Sans&quot;,sans-serif" fill="#1e1e1e">0</text>
<line x1="351.80" y1="391.00" x2="351.80" y2="393.10" stroke="#c8c8c8" stroke-width="1" />
<text x="351.80" y="402.60" font-size="9.8" text-anchor="middle" style="font-family:&quot;Liberation Sans&quot;,sans-serif" fill="#1e1e1e">1</text>
<line x1="389.10" y1="391.00" x2="389.10" y2="393.10" stroke="#c8c8c8" stroke-width="1" />
<text x="389.10" y="402.60" font-size="9.8" text-anchor="middle" style="font-family:&quot;Liberation Sans&quot;,sans-serif" fill="#1e1e1e">2</text>
<line x1="426.40" y1="391.00" x2="426.40" y2="393.10" stroke="#c8c8c8" stroke-width="1" />
<text x="426.40" y="402.60" font-size="9.8" text-anchor="middle" style="font-family:&quot;Liberation Sans&quot;,sans-serif" fill="#1e1e1e">3</text>
<line x1="463.70" y1="391.00" x2="463.70" y2="393.10" stroke="#c8c8c8" stroke-width="1" />
<text x="463.70" y="402.60" font-size="9.8" text-anchor="middle" style="font-family:&quot;Liberation Sans&quot;,sans-serif" fill="#1e1e1e">4</text>
<text x="304.45" y="415.00" font-size="11.5" style="font-family:&quot;Liberation Sans&quot;,sans-serif;" fill="#1e1e1e" textLength="167.44" lengthAdjust="spacingAndGlyphs" >Years after commencing imatinib</text>
<text transform="translate(285.20,382.19) rotate(-90)" x="0" y="0" font-size="11.5" style="font-family:&quot;Liberation Sans&quot;,sans-serif;" fill="#1e1e1e" textLength="123.60" lengthAdjust="spacingAndGlyphs">Cumulative Incidence %</text>
<line x1="326.00" y1="228.50" x2="343.00" y2="228.50" stroke="#000" stroke-width="1.6" stroke-dasharray="1.5 1.4" />
<line x1="326.00" y1="244.50" x2="343.00" y2="244.50" stroke="#000" stroke-width="1.9" />
<line x1="326.00" y1="259.60" x2="343.00" y2="259.60" stroke="#000" stroke-width="1.9" stroke-dasharray="6 4" />
<text x="347.00" y="231.90" font-size="9.6" style="font-family:&quot;Liberation Sans&quot;,sans-serif;" fill="#1e1e1e" textLength="119.39" lengthAdjust="spacingAndGlyphs" >≤10% 3 mo, 88% (CI 84-92)</text>
<text x="347.12" y="247.70" font-size="9.6" style="font-family:&quot;Liberation Sans&quot;,sans-serif;" fill="#1e1e1e" textLength="109.28" lengthAdjust="spacingAndGlyphs" >HT ≤76 d, 54% (CI 39-68)</text>
<text x="347.11" y="262.70" font-size="9.6" style="font-family:&quot;Liberation Sans&quot;,sans-serif;" fill="#1e1e1e" textLength="102.89" lengthAdjust="spacingAndGlyphs" >HT &gt;76 d,  5% (CI 0-21)</text>
<path d="M472.30,221.60 Q475.00,221.60 475.00,224.60 L475.00,231.70 Q475.00,234.70 477.70,234.70 Q475.00,234.70 475.00,237.70 L475.00,243.60 Q475.00,246.60 472.30,246.60" fill="none" stroke="#333" stroke-width="1.2"/>
<path d="M465.20,238.90 Q467.80,238.90 467.80,241.90 L467.80,248.40 Q467.80,251.40 470.40,251.40 Q467.80,251.40 467.80,254.40 L467.80,260.90 Q467.80,263.90 465.20,263.90" fill="none" stroke="#333" stroke-width="1.2"/>
<g transform="translate(482.30,237.00) scale(0.9361,1)"><text x="-0.33" y="0" font-size="10.8" style="font-family:&quot;Liberation Sans&quot;,sans-serif;font-style:italic" fill="#1e1e1e">P</text><text x="5.97" y="0" font-size="10.8" style="font-family:&quot;Liberation Sans&quot;,sans-serif;" fill="#1e1e1e">&lt;.0001</text></g>
<g transform="translate(479.10,256.20) scale(0.9412,1)"><text x="-0.33" y="0" font-size="10.8" style="font-family:&quot;Liberation Sans&quot;,sans-serif;font-style:italic" fill="#1e1e1e">P</text><text x="5.97" y="0" font-size="10.8" style="font-family:&quot;Liberation Sans&quot;,sans-serif;" fill="#1e1e1e">=.008</text></g>
<path d="M314.50,385.70 L323.30,385.70 L323.30,371.00 L331.50,371.00 L332.40,369.80 L334.70,334.70 L335.00,332.50 L339.50,332.50 L340.30,330.10 L342.60,312.00 L343.00,311.00 L347.50,307.50 L351.25,302.50 L355.00,299.80 L358.75,296.00 L361.25,292.30 L365.00,288.50 L367.50,286.00 L372.50,283.50 L380.00,281.00 L387.50,278.50 L392.50,276.50 L402.50,274.60 L412.50,272.90 L425.00,271.60 L435.50,270.60 L435.70,268.50 L450.00,267.20 L463.30,266.20" fill="none" stroke="#000" stroke-width="1.7" stroke-dasharray="1.5 1.2" stroke-dashoffset="0" stroke-linejoin="miter"/>
<path d="M314.50,385.70 L333.40,385.70 L333.40,382.30 L340.80,382.30 L340.80,375.30 L348.10,375.30 L348.10,370.00 L349.60,370.00 L349.60,366.00 L351.20,366.00 L351.20,364.80 L353.20,364.80 L353.20,362.80 L355.20,362.80 L355.20,359.40 L359.30,359.40 L359.30,356.70 L362.30,356.70 L362.30,355.30 L366.40,355.30 L366.40,353.70 L370.40,353.70 L370.40,352.70 L373.50,352.70 L373.50,350.60 L376.50,350.60 L376.50,348.60 L380.60,348.60 L380.60,347.20 L383.60,347.20 L383.60,342.50 L402.60,342.50 L402.60,335.00 L418.30,335.00 L418.30,332.20 L423.60,332.20 L423.60,329.00 L429.00,329.00 L429.00,325.30 L434.40,325.30 L434.40,322.10 L449.00,322.10 L449.00,318.90 L453.30,318.90 L453.30,313.50 L463.40,313.50" fill="none" stroke="#000" stroke-width="1.6" stroke-linejoin="miter"/>
<path d="M314.50,385.90 L412.50,385.90 L412.50,379.40 L463.50,379.40" fill="none" stroke="#000" stroke-width="1.6" stroke-dasharray="5.6 4.5" stroke-dashoffset="8.60" stroke-linejoin="miter"/>
</svg>
</body></html>
